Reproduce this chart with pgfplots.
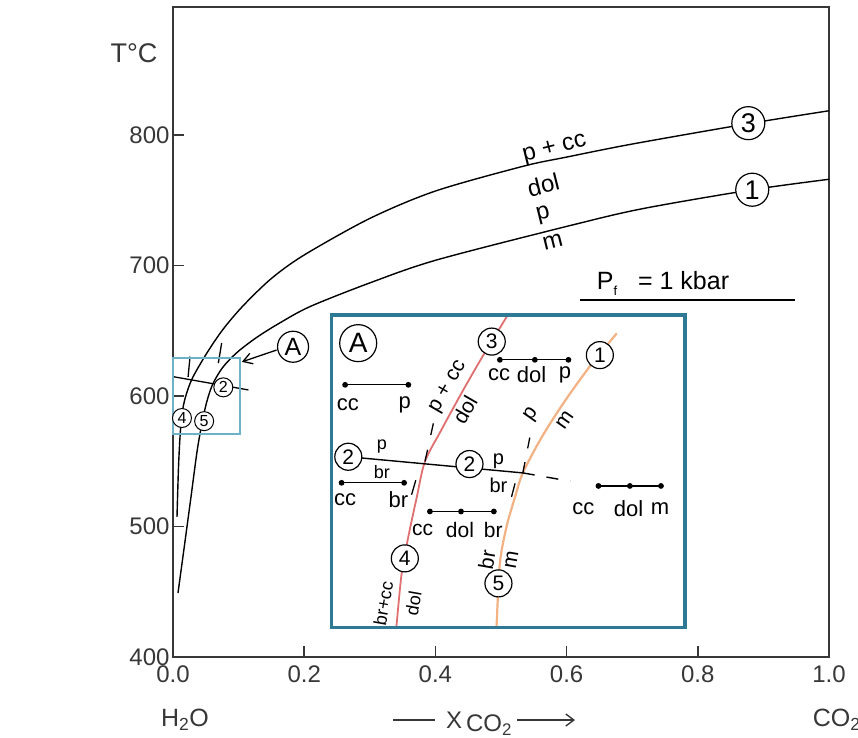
\documentclass[border=0pt]{standalone}
\usepackage{pgfplots}
\pgfplotsset{compat=1.18}
\usepackage{fontspec}
\setmainfont{Liberation Sans}
\usetikzlibrary{arrows.meta}
\newcommand\fs[1]{\fontsize{#1bp}{#1bp}\selectfont}
\definecolor{redc}{RGB}{224,112,112}
\definecolor{orc}{RGB}{242,178,132}
\definecolor{framec}{RGB}{46,122,148}
\definecolor{boxc}{RGB}{110,178,200}
\definecolor{axc}{RGB}{55,55,55}
\begin{document}
\begin{tikzpicture}
\useasboundingbox (-173bp,-81bp) rectangle (685bp,657bp);
\begin{axis}[
  at={(0,0)}, anchor=south west, scale only axis,
  width=656bp, height=650bp,
  xmin=0, xmax=1, ymin=400, ymax=898, clip=false,
  xtick={0,0.2,0.4,0.6,0.8,1.0}, xticklabels={0.0,0.2,0.4,0.6,0.8,1.0},
  ytick={400,500,600,700,800}, yticklabels={400,500,600,700,800},
  xtick pos=bottom, ytick pos=left, tick align=inside, major tick length=11bp,
  axis line style={axc, line width=1.6bp},
  tick style={axc, line width=1.6bp},
  tick label style={font=\fs{24}, text=axc},
  xticklabel style={yshift=-5bp},
]
% curve 3 / 4
\addplot[black, line width=1.4bp, smooth] coordinates {
 (0.0061,507.3) (0.0084,545.6) (0.0114,574) (0.0152,590.8) (0.0209,602.3)
 (0.0305,614.6) (0.0518,633) (0.0762,651) (0.1067,669) (0.15,690)
 (0.20,708) (0.30,736) (0.40,757) (0.534,776) (0.60,783) (0.70,793)
 (0.877,808.6) (1.0,818.5)};
% curve 1 / 5
\addplot[black, line width=1.4bp, smooth] coordinates {
 (0.0076,449) (0.0168,483) (0.027,521) (0.037,558.6) (0.045,581) (0.052,596.5)
 (0.061,609.5) (0.076,622) (0.098,633.5) (0.128,645) (0.163,656) (0.209,668.5)
 (0.30,686.6) (0.402,704.2) (0.605,730.5) (0.716,743.5) (0.883,758) (1.0,766)};
% reaction 2
\addplot[black, line width=1.3bp] coordinates {(0,614.8) (0.115,604.6)};
\addplot[black, line width=1.3bp] coordinates {(0.0742,640.6) (0.0691,625.1)};
\addplot[black, line width=1.3bp] coordinates {(0.026,630.2) (0.023,614.6)};
\draw[boxc, line width=1.8bp] (axis cs:0,571) rectangle (axis cs:0.102,629);
% circles
\node[circle, draw=black, fill=white, line width=1.2bp, inner sep=0pt, minimum size=33bp, font=\fs{27}] at (axis cs:0.877,809) {3};
\node[circle, draw=black, fill=white, line width=1.2bp, inner sep=0pt, minimum size=33bp, font=\fs{27}] at (axis cs:0.883,758) {1};
\node[circle, draw=black, fill=white, line width=1bp, inner sep=0pt, minimum size=19bp, font=\fs{16}] at (axis cs:0.0767,606.6) {2};
\node[circle, draw=black, fill=white, line width=1bp, inner sep=0pt, minimum size=19bp, font=\fs{16}] at (axis cs:0.0137,583.1) {4};
\node[circle, draw=black, fill=white, line width=1bp, inner sep=0pt, minimum size=19bp, font=\fs{16}] at (axis cs:0.0475,580.7) {5};
\node[circle, draw=black, fill=white, line width=1.2bp, inner sep=0pt, minimum size=31bp, font=\fs{25}] at (axis cs:0.183,637.7) {A};
\draw[-{Straight Barb[length=9bp,width=11bp]}, line width=1.3bp] (axis cs:0.158,635.2) -- (axis cs:0.105,626.1);
% labels on curves
\node[font=\fs{24}, rotate=14] at (axis cs:0.582,789) {p + cc};
\node[font=\fs{24}, rotate=14] at (axis cs:0.5645,761.7) {dol};
\node[font=\fs{24}, rotate=14] at (axis cs:0.5645,738.7) {p};
\node[font=\fs{24}, rotate=14] at (axis cs:0.579,718.2) {m};
\node[font=\fs{25}] at (axis cs:0.747,686) {P\raisebox{-0.45ex}{\fs{13}f}\ \ \ = 1 kbar};
\draw[line width=1.4bp] (axis cs:0.620,673.6) -- (axis cs:0.948,673.6);
% axis texts
\node[font=\fs{27}, text=axc] at (axis cs:-0.0595,862.5) {T°C};
\node[font=\fs{25}, text=axc] at (axis cs:0.0183,351.7) {H\textsubscript{2}O};
\node[font=\fs{25}, text=axc, anchor=west] at (axis cs:0.970,351.7) {CO\textsubscript{2}};
\node[font=\fs{24}, text=axc] at (axis cs:0.4284,351.7) {X};
\node[font=\fs{24}, text=axc] at (axis cs:0.4817,347.9) {CO\textsubscript{2}};
\draw[axc, line width=1.4bp] (axis cs:0.3354,351.7) -- (axis cs:0.3994,351.7);
\draw[axc, -{Straight Barb[length=8bp,width=12bp]}, line width=1.4bp] (axis cs:0.5244,351.7) -- (axis cs:0.6128,351.7);
\end{axis}
% inset
\begin{axis}[
  at={(158.7bp,29.3bp)}, anchor=south west, scale only axis,
  width=353.3bp, height=312.7bp,
  xmin=0, xmax=0.1, ymin=570, ymax=630, ticks=none,
  axis line style={framec, line width=3.5bp},
  axis background/.style={fill=white}, axis on top,
]
\addplot[redc, line width=1.8bp, smooth] coordinates {
 (0.0182,569.2) (0.0184,570.8) (0.0198,580.4) (0.0217,587.5) (0.0241,595.1)
 (0.0264,601.9) (0.0310,607.9) (0.0364,614.6) (0.0424,621.7) (0.0500,630.2) (0.0505,631)};
\addplot[orc, line width=2.2bp, smooth] coordinates {
 (0.0466,569.6) (0.0467,570.8) (0.0476,582.4) (0.0495,589.4) (0.0519,595.1)
 (0.0541,599.7) (0.0594,606.5) (0.0657,613.2) (0.0728,619.9) (0.0807,626.5)};
% reaction 2
\addplot[black, line width=1.4bp] coordinates {(0.0047,602.8) (0.0541,599.7)};
\addplot[black, line width=1.4bp, dash pattern=on 12bp off 12bp] coordinates {(0.0541,599.7) (0.0675,598.1)};
% metastable extensions
\addplot[black, line width=1.3bp, dash pattern=on 12bp off 15bp] coordinates {(0.0264,601.9) (0.0290,609.9)};
\addplot[black, line width=1.3bp] coordinates {(0.0238,598.3) (0.0226,595.5)};
\addplot[black, line width=1.3bp, dash pattern=on 11bp off 14bp] coordinates {(0.0541,599.7) (0.0561,606.6)};
\addplot[black, line width=1.3bp] coordinates {(0.0519,597.7) (0.0509,595.1)};
% tie lines
\addplot[black, line width=1.3bp, mark=*, mark size=2.2bp] coordinates {(0.0038,616.6) (0.0217,616.6)};
\addplot[black, line width=1.3bp, mark=*, mark size=2.2bp] coordinates {(0.0476,621.4) (0.0575,621.4) (0.0670,621.4)};
\addplot[black, line width=1.3bp, mark=*, mark size=2.2bp] coordinates {(0.0028,597.8) (0.0205,597.8)};
\addplot[black, line width=1.3bp, mark=*, mark size=2.2bp] coordinates {(0.0278,592.3) (0.0366,592.3) (0.0459,592.3)};
\addplot[black, line width=1.3bp, mark=*, mark size=2.2bp] coordinates {(0.0755,597.2) (0.0844,597.2) (0.0932,597.2)};
% tie line labels
\node[font=\fs{22}] at (axis cs:0.0046,612.7) {cc};
\node[font=\fs{22}] at (axis cs:0.0207,612.7) {p};
\node[font=\fs{22}] at (axis cs:0.0474,618.5) {cc};
\node[font=\fs{22}] at (axis cs:0.0566,618.5) {dol};
\node[font=\fs{22}] at (axis cs:0.0660,618.5) {p};
\node[font=\fs{22}] at (axis cs:0.0038,594.5) {cc};
\node[font=\fs{22}] at (axis cs:0.0189,594.5) {br};
\node[font=\fs{21}] at (axis cs:0.0257,588.7) {cc};
\node[font=\fs{21}] at (axis cs:0.0363,588.7) {dol};
\node[font=\fs{21}] at (axis cs:0.0457,588.7) {br};
\node[font=\fs{22}] at (axis cs:0.0712,592.8) {cc};
\node[font=\fs{22}] at (axis cs:0.0840,592.8) {dol};
\node[font=\fs{22}] at (axis cs:0.0929,592.8) {m};
% reaction 2 labels
\node[font=\fs{18}] at (axis cs:0.0142,604.7) {p};
\node[font=\fs{18}] at (axis cs:0.0142,599.9) {br};
\node[font=\fs{20}] at (axis cs:0.0472,601.9) {p};
\node[font=\fs{20}] at (axis cs:0.0472,597.4) {br};
% curve labels
\node[font=\fs{21}, rotate=60] at (axis cs:0.0330,616.2) {p + cc};
\node[font=\fs{21}, rotate=60] at (axis cs:0.0377,611.8) {dol};
\node[font=\fs{18}, rotate=80] at (axis cs:0.0146,574.7) {br+cc};
\node[font=\fs{18}, rotate=80] at (axis cs:0.0231,574.7) {dol};
\node[font=\fs{21}, rotate=55] at (axis cs:0.0566,610.8) {p};
\node[font=\fs{21}, rotate=55] at (axis cs:0.0660,609.9) {m};
\node[font=\fs{21}, rotate=80] at (axis cs:0.0439,583) {br};
\node[font=\fs{21}, rotate=80] at (axis cs:0.0509,583) {m};
% circles
\node[circle, draw=black, fill=white, line width=1.2bp, inner sep=0pt, minimum size=37bp, font=\fs{28}] at (axis cs:0.0075,624.6) {A};
\node[circle, draw=black, fill=white, line width=1.2bp, inner sep=0pt, minimum size=27bp, font=\fs{21}] at (axis cs:0.0453,624.9) {3};
\node[circle, draw=black, fill=white, line width=1.2bp, inner sep=0pt, minimum size=27bp, font=\fs{21}] at (axis cs:0.0759,622.3) {1};
\node[circle, draw=black, fill=white, line width=1.2bp, inner sep=0pt, minimum size=27bp, font=\fs{21}] at (axis cs:0.0047,602.8) {2};
\node[circle, draw=black, fill=white, line width=1.2bp, inner sep=0pt, minimum size=27bp, font=\fs{21}] at (axis cs:0.0390,601.4) {2};
\node[circle, draw=black, fill=white, line width=1.2bp, inner sep=0pt, minimum size=27bp, font=\fs{21}] at (axis cs:0.0207,583.3) {4};
\node[circle, draw=black, fill=white, line width=1.2bp, inner sep=0pt, minimum size=27bp, font=\fs{21}] at (axis cs:0.0472,578.5) {5};
\end{axis}
\end{tikzpicture}
\end{document}
